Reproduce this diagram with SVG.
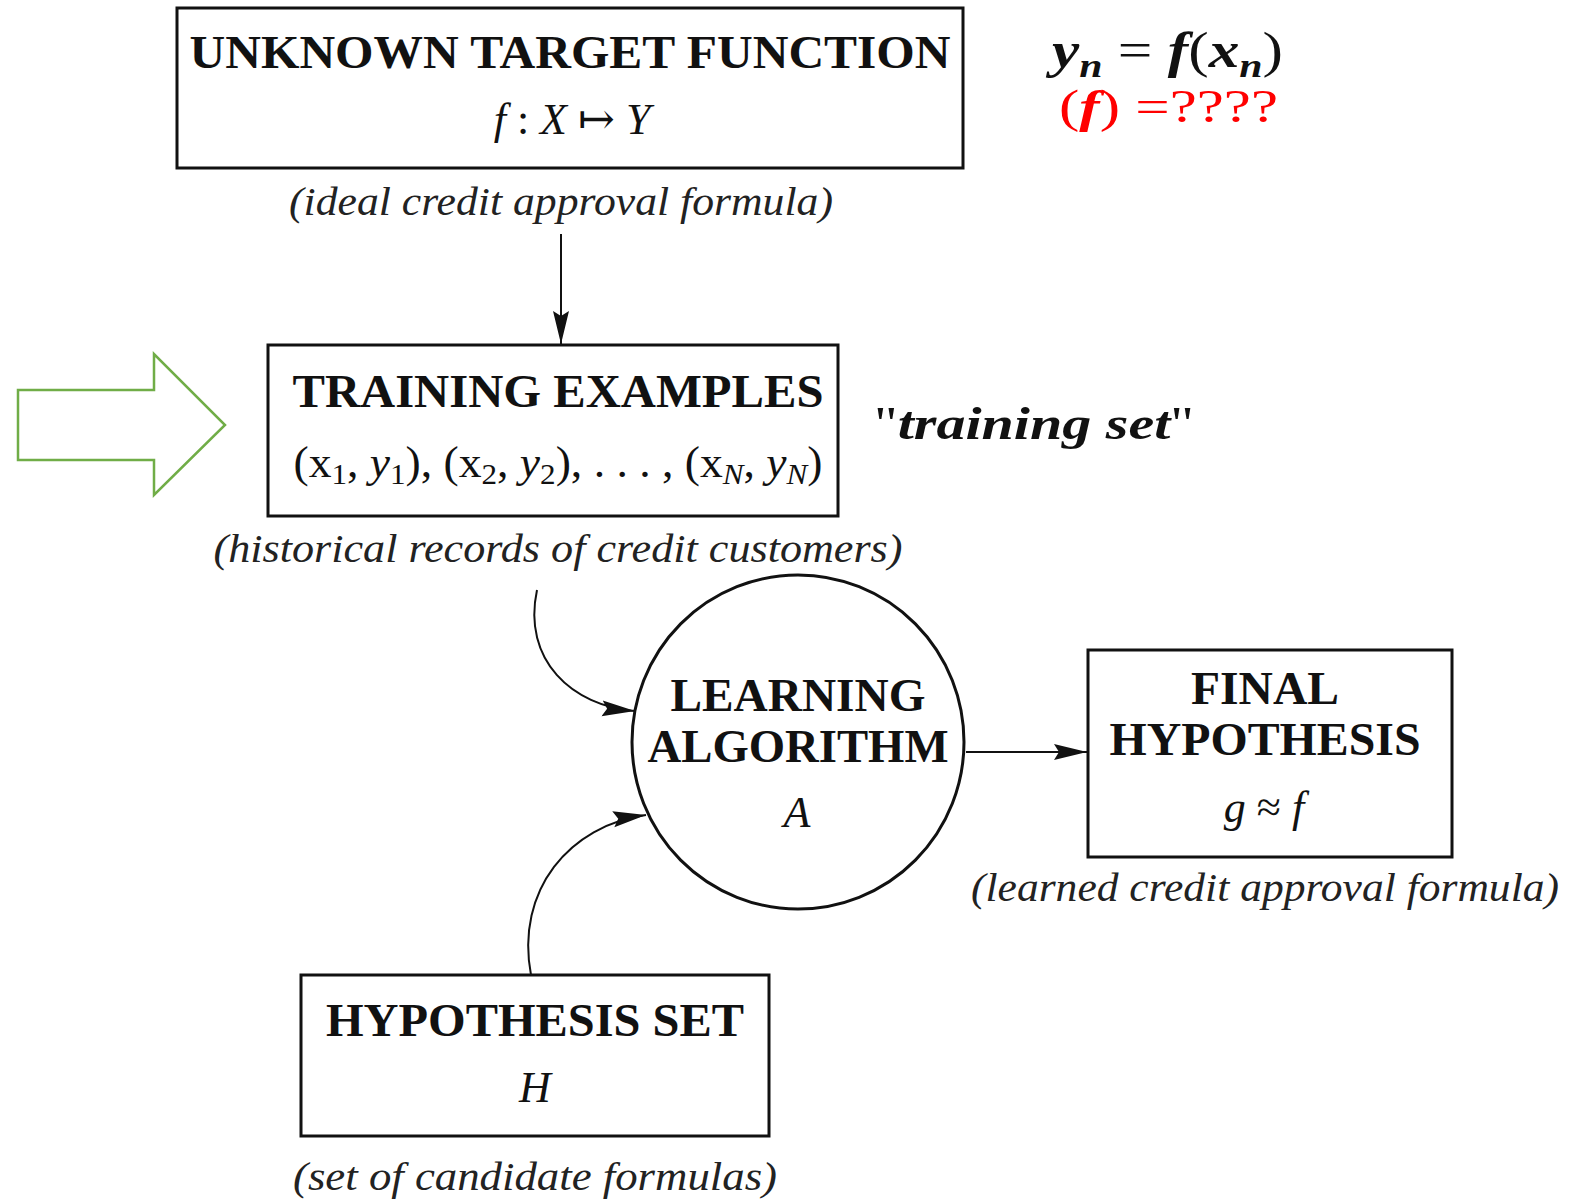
<svg xmlns="http://www.w3.org/2000/svg" width="1582" height="1202" viewBox="0 0 1582 1202">
<style>
.box{fill:#fff;stroke:#111;stroke-width:3}
.title{font-family:"Liberation Serif","DejaVu Serif",serif;font-weight:bold;font-size:46px;fill:#111;text-anchor:middle}
.math{font-family:"Liberation Serif","DejaVu Serif",serif;font-size:44px;fill:#111;text-anchor:middle}
.cap{font-family:"Liberation Serif","DejaVu Serif",serif;font-style:italic;font-size:40px;fill:#222;text-anchor:middle}
.it{font-style:italic}
.conn{fill:none;stroke:#111;stroke-width:2}
</style>
<defs>
<marker id="ah" markerUnits="userSpaceOnUse" markerWidth="34" markerHeight="18" viewBox="0 0 34 18" refX="33" refY="9" orient="auto">
<path d="M0,1 L33,9 L0,17 L5,9 z" fill="#111"/>
</marker>
</defs>
<g id="connectors">
<line class="conn" x1="561" y1="234" x2="561" y2="344" marker-end="url(#ah)"/>
<path class="conn" d="M537,590 C522,660 572,706 635,711" marker-end="url(#ah)"/>
<path class="conn" d="M531,975 C515,890 570,825 646,815" marker-end="url(#ah)"/>
<line class="conn" x1="966" y1="752" x2="1087" y2="752" marker-end="url(#ah)"/>
</g>
<g id="green-arrow">
<polygon points="18,390 154,390 154,354 225,425 154,495 154,460 18,460" fill="none" stroke="#70AD47" stroke-width="2.5"/>
</g>
<g id="target-function">
<rect class="box" x="177" y="8" width="786" height="160"/>
<text class="title" x="570" y="68" textLength="761" lengthAdjust="spacingAndGlyphs">UNKNOWN TARGET FUNCTION</text>
<text class="math" x="572" y="134"><tspan class="it">f</tspan> : <tspan class="it">X</tspan> ↦ <tspan class="it">Y</tspan></text>
<text class="cap" x="561" y="215" textLength="544" lengthAdjust="spacingAndGlyphs">(ideal credit approval formula)</text>
</g>
<g id="formula-note">
<text x="1052" y="67" font-family="Liberation Serif, DejaVu Serif, serif" font-size="50" fill="#111" textLength="231" lengthAdjust="spacingAndGlyphs"><tspan font-weight="bold" font-style="italic">y</tspan><tspan font-weight="bold" font-style="italic" font-size="34" dy="10">n</tspan><tspan dy="-10"> = </tspan><tspan font-weight="bold" font-style="italic">f</tspan>(<tspan font-weight="bold" font-style="italic">x</tspan><tspan font-weight="bold" font-style="italic" font-size="34" dy="10">n</tspan><tspan dy="-10">)</tspan></text>
<text x="1059" y="122" font-family="Liberation Serif, DejaVu Serif, serif" font-size="46" fill="#FF0000" textLength="219" lengthAdjust="spacingAndGlyphs">(<tspan font-weight="bold" font-style="italic">f</tspan>) =????</text>
</g>
<g id="training-examples">
<rect class="box" x="268" y="345" width="570" height="171"/>
<text class="title" x="558" y="407" textLength="531" lengthAdjust="spacingAndGlyphs">TRAINING EXAMPLES</text>
<text class="math" x="558" y="477" textLength="529" lengthAdjust="spacingAndGlyphs">(x<tspan font-size="30" dy="7">1</tspan><tspan dy="-7">, </tspan><tspan class="it">y</tspan><tspan font-size="30" dy="7">1</tspan><tspan dy="-7">), (x</tspan><tspan font-size="30" dy="7">2</tspan><tspan dy="-7">, </tspan><tspan class="it">y</tspan><tspan font-size="30" dy="7">2</tspan><tspan dy="-7">), . . . , (x</tspan><tspan font-size="30" class="it" dy="7">N</tspan><tspan dy="-7">, </tspan><tspan class="it">y</tspan><tspan font-size="30" class="it" dy="7">N</tspan><tspan dy="-7">)</tspan></text>
<text class="cap" x="558" y="562" textLength="689" lengthAdjust="spacingAndGlyphs">(historical records of credit customers)</text>
</g>
<g id="training-set-note">
<text x="874" y="439" font-family="Liberation Serif, DejaVu Serif, serif" font-size="46" fill="#111" textLength="320" lengthAdjust="spacingAndGlyphs">"<tspan font-weight="bold" font-style="italic">training set</tspan>"</text>
</g>
<g id="learning-algorithm">
<ellipse cx="798" cy="742" rx="166" ry="167" fill="#fff" stroke="#111" stroke-width="3"/>
<text class="title" x="798" y="711" font-size="48" textLength="255" lengthAdjust="spacingAndGlyphs">LEARNING</text>
<text class="title" x="798" y="762" font-size="48" textLength="301" lengthAdjust="spacingAndGlyphs">ALGORITHM</text>
<text class="math it" x="797" y="827">A</text>
</g>
<g id="final-hypothesis">
<rect class="box" x="1088" y="650" width="364" height="207"/>
<text class="title" x="1265" y="704" textLength="148" lengthAdjust="spacingAndGlyphs">FINAL</text>
<text class="title" x="1265" y="755" textLength="311" lengthAdjust="spacingAndGlyphs">HYPOTHESIS</text>
<text class="math" x="1264" y="822"><tspan class="it">g</tspan> ≈ <tspan class="it">f</tspan></text>
<text class="cap" x="1265" y="901" textLength="588" lengthAdjust="spacingAndGlyphs">(learned credit approval formula)</text>
</g>
<g id="hypothesis-set">
<rect class="box" x="301" y="975" width="468" height="161"/>
<text class="title" x="535" y="1036" textLength="418" lengthAdjust="spacingAndGlyphs">HYPOTHESIS SET</text>
<text class="math it" x="535" y="1102">H</text>
<text class="cap" x="535" y="1190" textLength="484" lengthAdjust="spacingAndGlyphs">(set of candidate formulas)</text>
</g>
</svg>
